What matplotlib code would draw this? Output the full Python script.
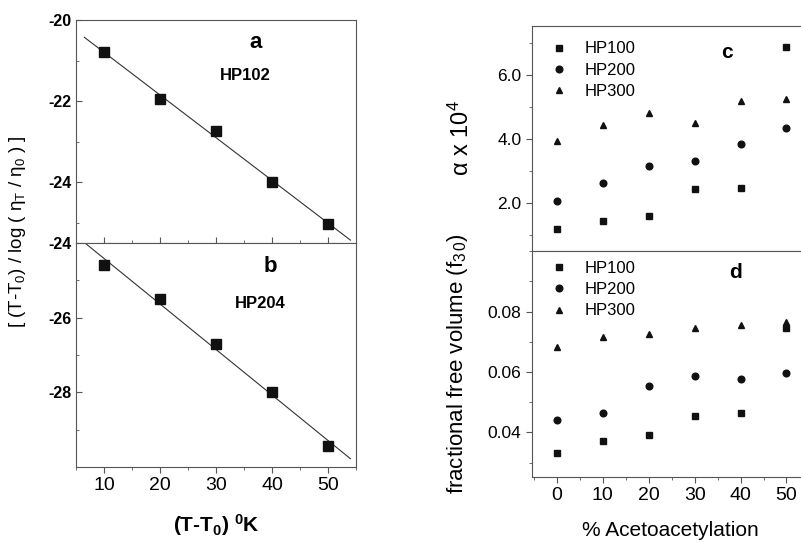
import numpy as np
import matplotlib
matplotlib.use("Agg")
import matplotlib.pyplot as plt
from matplotlib.ticker import MultipleLocator

plt.rcParams["font.family"] = ["Liberation Sans", "DejaVu Sans"]
plt.rcParams["mathtext.fontset"] = "custom"
plt.rcParams["mathtext.rm"] = "Liberation Sans"
plt.rcParams["mathtext.it"] = "Liberation Sans"
plt.rcParams["mathtext.bf"] = "Liberation Sans:bold"
plt.rcParams["axes.unicode_minus"] = False

# panels a / b
dt = [10, 20, 30, 40, 50]
hp102 = [-20.8, -21.94, -22.74, -23.99, -25.04]
hp204 = [-24.6, -25.51, -26.70, -28.0, -29.45]

# panels c / d
acet = [0, 10, 20, 30, 40, 50]
series_names = ["HP100", "HP200", "HP300"]
alpha_hp100 = [1.21, 1.45, 1.59, 2.45, 2.49, 6.87]
alpha_hp200 = [2.07, 2.63, 3.17, 3.32, 3.85, 4.34]
alpha_hp300 = [3.94, 4.44, 4.83, 4.50, 5.18, 5.24]
ffv_hp100 = [0.033, 0.037, 0.039, 0.0455, 0.0465, 0.0745]
ffv_hp200 = [0.0442, 0.0464, 0.0553, 0.0586, 0.0576, 0.0596]
ffv_hp300 = [0.0684, 0.0715, 0.0727, 0.0747, 0.0757, 0.0767]

markers = ["s", "o", "^"]
spine_col = "#555555"

fig = plt.figure(figsize=(8.01, 5.42), dpi=100)
W, H = 801.0, 542.0


def box(l, t, r, b):
    return [l / W, 1 - b / H, (r - l) / W, (b - t) / H]


def style(ax, xdir, ydir):
    for s in ax.spines.values():
        s.set_color(spine_col)
        s.set_linewidth(0.8)
    ax.tick_params(axis="x", which="both", direction=xdir, color=spine_col)
    ax.tick_params(axis="y", which="both", direction=ydir, color=spine_col)
    ax.tick_params(which="major", length=4)
    ax.tick_params(which="minor", length=2.5)


def fit_panel(ax, y, ylim, yticks, lbl, name, lbl_xy, name_xy):
    k, c = np.polyfit(dt, y, 1)
    xs = np.array([6.5, 54.0])
    ax.plot(xs, k * xs + c, color="#333333", lw=0.8)
    ax.plot(dt, y, "s", color="#111111", ms=7.5)
    ax.set_xlim(5, 55)
    ax.set_ylim(*ylim)
    ax.set_yticks(yticks)
    ax.xaxis.set_major_locator(MultipleLocator(10))
    ax.xaxis.set_minor_locator(MultipleLocator(5))
    ax.yaxis.set_minor_locator(MultipleLocator(1))
    for t in ax.get_yticklabels():
        t.set_fontweight("bold")
        t.set_fontsize(11.5)
    ax.text(*lbl_xy, lbl, transform=ax.transAxes, fontsize=16,
            fontweight="bold", ha="center", va="center")
    ax.text(*name_xy, name, transform=ax.transAxes, fontsize=12,
            fontweight="bold", ha="center", va="center")


ax_a = fig.add_axes(box(76, 20, 356, 243))
fit_panel(ax_a, hp102, (-25.5, -20), [-20, -22, -24], "a", "HP102",
          ((256 - 76) / 280, 1 - (42 - 20) / 223),
          ((245 - 76) / 280, 1 - (76 - 20) / 223))
style(ax_a, "in", "in")
ax_a.tick_params(axis="x", labelbottom=False)

ax_b = fig.add_axes(box(76, 243, 356, 467))
fit_panel(ax_b, hp204, (-30, -24), [-24, -26, -28], "b", "HP204",
          ((270 - 76) / 280, 1 - (267 - 243) / 224),
          ((260 - 76) / 280, 1 - (303 - 243) / 224))
style(ax_b, "out", "in")
ax_b.tick_params(axis="x", labelsize=14)
ax_b.set_xlabel(r"(T-T$_\mathbf{0}$) $^\mathbf{0}$K", fontsize=15,
                fontweight="bold", labelpad=13)

fig.text(18 / W, 1 - 232 / H,
         r"[ (T-T$_0$) / log ( $\eta_T$ / $\eta_0$ ) ]",
         rotation=90, ha="center", va="center", fontsize=13.5)


def scatter_panel(ax, ys, ylim, yticks, fmt, lbl, lbl_xy, top):
    for y, m, n in zip(ys, markers, series_names):
        ax.plot(acet, y, m, color="#111111", ms=4.8, ls="none", label=n)
    ax.set_xlim(-5.4, 54.9)
    ax.set_ylim(*ylim)
    ax.set_yticks(yticks)
    ax.set_yticklabels([fmt.format(v) for v in yticks])
    ax.xaxis.set_major_locator(MultipleLocator(10))
    ax.xaxis.set_minor_locator(MultipleLocator(5))
    ax.spines["right"].set_visible(False)
    ax.tick_params(axis="y", labelsize=12.5)
    ax.tick_params(axis="x", labelsize=14)
    ax.text(*lbl_xy, lbl, transform=ax.transAxes, fontsize=15,
            fontweight="bold", ha="center", va="center")
    ax.legend(loc="upper left", frameon=False, fontsize=12,
              handlelength=0.8, handletextpad=1.1, labelspacing=0.38,
              borderaxespad=0.0, bbox_to_anchor=(0.05, top))


ax_c = fig.add_axes(box(532, 25.7, 809, 250.7))
scatter_panel(ax_c, [alpha_hp100, alpha_hp200, alpha_hp300], (0.52, 7.54),
              [2.0, 4.0, 6.0], "{:.1f}", "c",
              ((727 - 532) / 277, 1 - (53 - 25.7) / 225), 0.96)
ax_c.yaxis.set_minor_locator(MultipleLocator(1))
style(ax_c, "out", "out")
ax_c.tick_params(axis="x", labelbottom=False)
ax_c.set_ylabel(r"$\alpha$ x 10$^4$", fontsize=17)

ax_d = fig.add_axes(box(532, 250.7, 809, 477))
scatter_panel(ax_d, [ffv_hp100, ffv_hp200, ffv_hp300], (0.0252, 0.1002),
              [0.04, 0.06, 0.08], "{:.2f}", "d",
              ((735 - 532) / 277, 1 - (273 - 250.7) / 226.3), 0.985)
ax_d.yaxis.set_minor_locator(MultipleLocator(0.01))
style(ax_d, "out", "out")
ax_d.set_xlabel("% Acetoacetylation", fontsize=15, labelpad=12)
ax_d.set_ylabel(r"fractional free volume (f$_{3\,0}$)", fontsize=16)
ax_d.yaxis.set_label_coords(-0.225, 0.50)
ax_c.yaxis.set_label_coords(-0.21, 0.50)

fig.savefig("out.png", dpi=100)
